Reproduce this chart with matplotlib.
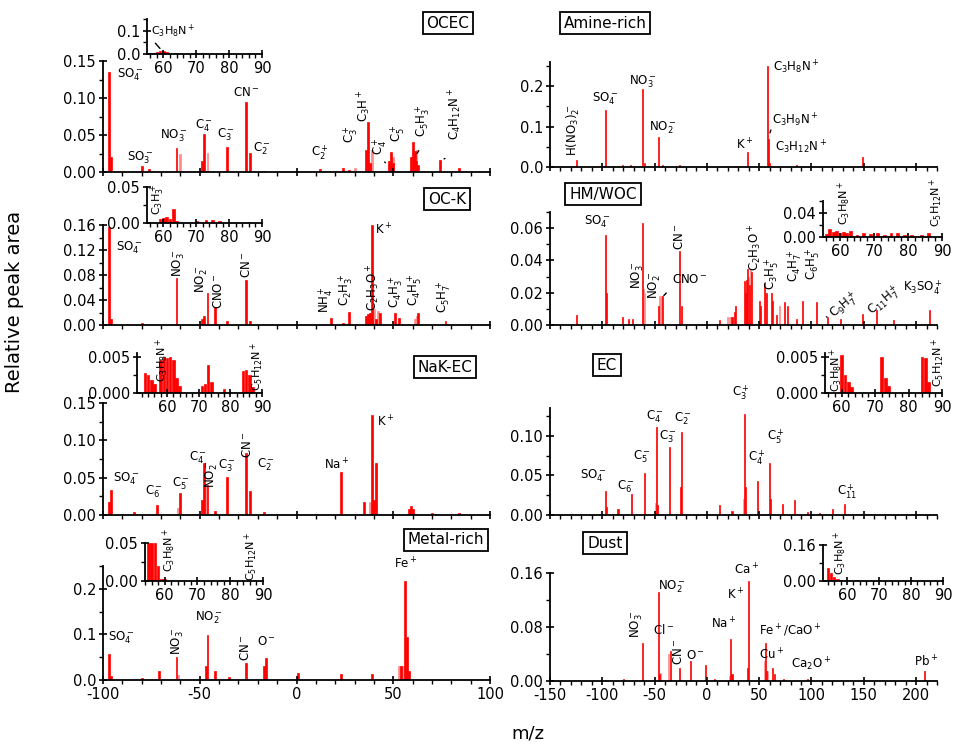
import matplotlib
matplotlib.use("Agg")
import matplotlib.pyplot as plt
from matplotlib.ticker import MultipleLocator, AutoMinorLocator, FormatStrFormatter, FixedLocator

plt.rcParams["font.family"] = ["DejaVu Sans"]
plt.rcParams["mathtext.default"] = "regular"

W, H = 969, 753
RED = "#ff0000"
PINK = "#ff8a8a"

# ---- spectra (m/z, relative peak area) ----
ocec_mz = [-97, -96, -80, -76, -62, -49, -48, -36, -26, -24, -17, 12, 24, 27, 36, 37, 38,
           48, 49, 50, 59, 60, 61, 62, 63, 74, 84]
ocec_val = [0.135, 0.02, 0.008, 0.004, 0.033, 0.015, 0.052, 0.034, 0.094, 0.026, 0.002, 0.004,
            0.005, 0.003, 0.03, 0.068, 0.012, 0.015, 0.027, 0.012, 0.02, 0.040, 0.028, 0.015,
            0.01, 0.016, 0.006]
ocec_lmz = [-60, -46, 30, 39, 50, 62]
ocec_lval = [0.025, 0.026, 0.006, 0.03, 0.02, 0.03]
ocec_in_mz = [57, 58, 59, 60, 61, 64, 72, 86]
ocec_in_val = [0.006, 0.01, 0.015, 0.012, 0.008, 0.003, 0.003, 0.003]

amine_mz = [-125, -97, -89, -81, -73, -62, -60, -46, -42, -26, 18, 27, 39, 58, 59, 60, 86, 149]
amine_val = [0.018, 0.141, 0.003, 0.005, 0.004, 0.192, 0.01, 0.075, 0.004, 0.006, 0.003, 0.003,
             0.038, 0.25, 0.07, 0.01, 0.006, 0.025]

ock_mz = [-97, -96, -80, -62, -49, -48, -46, -42, -36, -26, -24, 18, 24, 27, 36, 37, 38, 39,
          41, 43, 51, 53, 63, 77]
ock_val = [0.157, 0.01, 0.003, 0.075, 0.01, 0.015, 0.051, 0.029, 0.007, 0.072, 0.006, 0.012,
           0.004, 0.021, 0.015, 0.018, 0.02, 0.16, 0.01, 0.02, 0.02, 0.012, 0.02, 0.006]
ock_lmz = [40, 42, 61, 62]
ock_lval = [0.025, 0.022, 0.01, 0.015]
ock_in_mz = [59, 60, 61, 62, 63, 64, 70, 73, 75, 77, 86]
ock_in_val = [0.005, 0.007, 0.008, 0.005, 0.02, 0.003, 0.003, 0.004, 0.004, 0.003, 0.002]

hm_mz = [-125, -97, -96, -81, -75, -71, -62, -46, -42, -26, -24, 12, 24, 26, 27, 36, 37, 38,
         39, 41, 43, 50, 51, 55, 57, 62, 63, 67, 74, 77, 86, 91, 105, 115, 128, 149, 162, 178, 213]
hm_val = [0.006, 0.056, 0.02, 0.005, 0.004, 0.004, 0.063, 0.012, 0.018, 0.046, 0.012, 0.003,
          0.005, 0.008, 0.012, 0.027, 0.02, 0.028, 0.035, 0.025, 0.033, 0.015, 0.012, 0.026,
          0.02, 0.02, 0.015, 0.006, 0.014, 0.012, 0.004, 0.015, 0.014, 0.005, 0.004, 0.007,
          0.009, 0.003, 0.009]
hm_lmz = [-61, -60, -45, -44, -43, 20, 22, 40, 42, 56, 69]
hm_lval = [0.022, 0.02, 0.018, 0.017, 0.018, 0.005, 0.005, 0.03, 0.034, 0.02, 0.012]
hm_in_mz = [56, 57, 58, 59, 60, 61, 62, 63, 65, 67, 69, 71, 73, 75, 77, 79, 81, 84, 86]
hm_in_val = [0.005, 0.013, 0.008, 0.01, 0.006, 0.008, 0.007, 0.01, 0.004, 0.006, 0.005, 0.006,
             0.004, 0.007, 0.006, 0.004, 0.004, 0.004, 0.006]

nak_mz = [-97, -96, -84, -72, -60, -49, -48, -46, -42, -36, -26, -24, -17, 23, 35, 39, 40, 41,
          58, 59, 60, 70, 84]
nak_val = [0.018, 0.034, 0.004, 0.013, 0.029, 0.02, 0.069, 0.04, 0.005, 0.051, 0.083, 0.032,
           0.004, 0.058, 0.018, 0.134, 0.02, 0.07, 0.008, 0.012, 0.008, 0.003, 0.003]
nak_lmz = [-61, -47, 38]
nak_lval = [0.01, 0.04, 0.018]
nak_in_mz = [53, 54, 55, 56, 58, 59, 60, 61, 62, 63, 64, 71, 72, 73, 74, 78, 84, 85, 86, 87]
nak_in_val = [0.0028, 0.0025, 0.0018, 0.0012, 0.0045, 0.005, 0.0048, 0.005, 0.0045, 0.002,
              0.001, 0.001, 0.0012, 0.0038, 0.0015, 0.0005, 0.003, 0.0032, 0.0025, 0.0008]

ec_mz = [-97, -96, -85, -72, -60, -48, -47, -36, -25, -24, 12, 24, 36, 37, 48, 60, 61, 72, 84,
         96, 108, 120, 132]
ec_val = [0.03, 0.01, 0.008, 0.026, 0.053, 0.111, 0.012, 0.086, 0.035, 0.105, 0.012, 0.005,
          0.128, 0.035, 0.043, 0.066, 0.02, 0.014, 0.019, 0.004, 0.003, 0.008, 0.014]
ec_lmz = [-49, 35]
ec_lval = [0.015, 0.02]
ec_in_mz = [60, 61, 62, 63, 72, 73, 74, 84, 85, 86]
ec_in_val = [0.0052, 0.0025, 0.0015, 0.0008, 0.005, 0.002, 0.001, 0.005, 0.0048, 0.0015]

metal_mz = [-97, -96, -80, -71, -62, -47, -46, -42, -35, -26, -17, -16, 1, 23, 39, 54, 56, 57, 58]
metal_val = [0.057, 0.008, 0.004, 0.02, 0.05, 0.03, 0.098, 0.019, 0.006, 0.037, 0.03, 0.048,
             0.015, 0.013, 0.013, 0.03, 0.218, 0.095, 0.02]
metal_lmz = [-61, 53, 55]
metal_lval = [0.01, 0.03, 0.03]
metal_in_mz = [55, 56, 57, 58, 59, 60, 70]
metal_in_val = [0.05, 0.05, 0.05, 0.02, 0.003, 0.002, 0.001]

dust_mz = [-97, -80, -62, -46, -45, -35, -26, -16, -1, 7, 23, 24, 39, 40, 56, 57, 63, 65, 73, 96, 208]
dust_val = [0.002, 0.003, 0.057, 0.132, 0.01, 0.045, 0.02, 0.03, 0.024, 0.003, 0.062, 0.01,
            0.02, 0.148, 0.057, 0.015, 0.02, 0.01, 0.003, 0.003, 0.015]
dust_lmz = [-44, -37, 22, 55, 58]
dust_lval = [0.012, 0.04, 0.008, 0.03, 0.015]
dust_in_mz = [54, 55, 56, 57, 58, 63]
dust_in_val = [0.06, 0.035, 0.02, 0.01, 0.005, 0.006]

left_xticks = [-100, -50, 0, 50, 100]
right_xticks = [-150, -100, -50, 0, 50, 100, 150, 200]
inset_xticks = [60, 70, 80, 90]


def px_rect(x0, x1, ytop, ybot):
    return [x0 / W, 1 - ybot / H, (x1 - x0) / W, (ybot - ytop) / H]


def style(ax, xticks, xminor, yticks, yfmt, labels, fs=10.5):
    for s in ("top", "right"):
        ax.spines[s].set_visible(False)
    for s in ("left", "bottom"):
        ax.spines[s].set_linewidth(1.3)
    ax.xaxis.set_major_locator(FixedLocator(xticks))
    ax.xaxis.set_minor_locator(MultipleLocator(xminor))
    ax.yaxis.set_major_locator(FixedLocator(yticks))
    ax.yaxis.set_minor_locator(AutoMinorLocator(2))
    ax.yaxis.set_major_formatter(FormatStrFormatter(yfmt))
    ax.tick_params(which="major", direction="inout", length=6, width=1.2, labelsize=fs, pad=2)
    ax.tick_params(which="minor", direction="out", length=3, width=1.0)
    ax.tick_params(axis="x", labelbottom=labels)
    ax.patch.set_alpha(0)


def bars(ax, mz, val, lmz=None, lval=None, width=1.0):
    if lmz:
        ax.bar(lmz, lval, width=width, color=PINK, lw=0.5, edgecolor=PINK)
    ax.bar(mz, val, width=width, color=RED, lw=0.5, edgecolor=RED)


def put_labels(ax, items, fs=8.5):
    for it in items:
        txt, x, y, rot = it[:4]
        ha = it[4] if len(it) > 4 else "center"
        ax.text(x, y, txt, rotation=rot, ha=ha, va="center", fontsize=fs, clip_on=False)


def leader(ax, p0, p1):
    ax.annotate("", xy=p1, xytext=p0, arrowprops=dict(arrowstyle="-", lw=1.0, color="k"))


def box_title(fig, x, y, txt):
    fig.text(x / W, 1 - y / H, txt, ha="center", va="center", fontsize=11,
             bbox=dict(boxstyle="square,pad=0.25", fc="white", ec="black", lw=1.3))


fig = plt.figure(figsize=(W / 100, H / 100), dpi=100)

# ---------------- row 1 ----------------
ax = fig.add_axes(px_rect(103, 490, 61, 172))
bars(ax, ocec_mz, ocec_val, ocec_lmz, ocec_lval)
ax.set_xlim(-100, 100); ax.set_ylim(0, 0.15)
style(ax, left_xticks, 10, [0, 0.05, 0.10, 0.15], "%.2f", False)
put_labels(ax, [(r"SO$_4^-$", -86, 0.131, 0),
                (r"SO$_3^-$", -80.5, 0.019, 0),
                (r"NO$_3^-$", -63.5, 0.049, 0),
                (r"C$_4^-$", -48, 0.062, 0),
                (r"C$_3^-$", -36.5, 0.051, 0),
                (r"CN$^-$", -26, 0.107, 0),
                (r"C$_2^-$", -18, 0.031, 0),
                (r"C$_2^+$", 12, 0.026, 0),
                (r"C$_3^+$", 28, 0.051, 90),
                (r"C$_3$H$^+$", 35, 0.089, 90),
                (r"C$_4^+$", 43, 0.035, 90),
                (r"C$_5^+$", 52, 0.053, 90),
                (r"C$_5$H$_3^+$", 65, 0.069, 90),
                (r"C$_4$H$_{12}$N$^+$", 82, 0.078, 90)])
leader(ax, (44.5, 0.016), (47, 0.010))
leader(ax, (64, 0.032), (61.5, 0.022))
leader(ax, (78, 0.02), (75, 0.016))
box_title(fig, 448, 23, "OCEC")

ins = fig.add_axes(px_rect(147, 262, 19, 54))
bars(ins, ocec_in_mz, ocec_in_val, width=0.8)
ins.set_xlim(55, 90); ins.set_ylim(0, 0.15)
style(ins, inset_xticks, 2, [0.0, 0.1], "%.1f", True)
put_labels(ins, [(r"C$_3$H$_8$N$^+$", 56.3, 0.095, 0, "left")], fs=8)
leader(ins, (57, 0.055), (59.5, 0.015))

ax = fig.add_axes(px_rect(550, 937, 62, 167))
bars(ax, amine_mz, amine_val)
ax.set_xlim(-150, 220); ax.set_ylim(0, 0.26)
style(ax, right_xticks, 10, [0, 0.1, 0.2], "%.1f", False)
put_labels(ax, [(r"H(NO$_3$)$_2^-$", -127.5, 0.092, 90),
                (r"SO$_4^-$", -97.5, 0.17, 0),
                (r"NO$_3^-$", -61, 0.21, 0),
                (r"NO$_2^-$", -42, 0.096, 0),
                (r"K$^+$", 36, 0.055, 0),
                (r"C$_3$H$_8$N$^+$", 63, 0.248, 0, "left"),
                (r"C$_3$H$_9$N$^+$", 62, 0.116, 0, "left"),
                (r"C$_3$H$_{12}$N$^+$", 65, 0.05, 0, "left")])
leader(ax, (62, 0.098), (59.5, 0.078))
box_title(fig, 605, 23, "Amine-rich")

# ---------------- row 2 ----------------
ax = fig.add_axes(px_rect(103, 490, 225, 325))
bars(ax, ock_mz, ock_val, ock_lmz, ock_lval)
ax.set_xlim(-100, 100); ax.set_ylim(0, 0.16)
style(ax, left_xticks, 10, [0, 0.04, 0.08, 0.12, 0.16], "%.2f", False)
put_labels(ax, [(r"SO$_4^-$", -86.5, 0.123, 0),
                (r"NO$_3^-$", -61, 0.099, 90),
                (r"NO$_2^-$", -49, 0.074, 90),
                (r"CNO$^-$", -40.5, 0.054, 90),
                (r"CN$^-$", -26, 0.096, 90),
                (r"NH$_4^+$", 15, 0.04, 90),
                (r"C$_2$H$_3^+$", 25.5, 0.056, 90),
                (r"K$^+$", 40.5, 0.152, 0, "left"),
                (r"C$_2$H$_3$O$^+$", 39.5, 0.061, 90),
                (r"C$_4$H$_3^+$", 51, 0.053, 90),
                (r"C$_4$H$_5^+$", 61, 0.056, 90),
                (r"C$_5$H$_7^+$", 76, 0.045, 90)])
box_title(fig, 447, 199, "OC-K")

ins = fig.add_axes(px_rect(147, 262, 187, 223))
bars(ins, ock_in_mz, ock_in_val, width=0.8)
ins.set_xlim(55, 90); ins.set_ylim(0, 0.05)
style(ins, inset_xticks, 2, [0.00, 0.05], "%.2f", True)
put_labels(ins, [(r"C$_3$H$_3^+$", 58.3, 0.032, 90)], fs=8)

ax = fig.add_axes(px_rect(550, 937, 212, 325))
bars(ax, hm_mz, hm_val, hm_lmz, hm_lval)
ax.set_xlim(-150, 220); ax.set_ylim(0, 0.07)
style(ax, right_xticks, 10, [0, 0.02, 0.04, 0.06], "%.2f", False)
put_labels(ax, [(r"SO$_4^-$", -105, 0.064, 0),
                (r"NO$_3^-$", -66, 0.031, 90),
                (r"NO$_2^-$", -50, 0.025, 90),
                (r"CNO$^-$", -16, 0.028, 0),
                (r"CN$^-$", -26, 0.055, 90),
                (r"C$_2$H$_3$O$^+$", 46, 0.048, 90),
                (r"C$_3$H$_5^+$", 62, 0.032, 90),
                (r"C$_4$H$_7^+$", 84, 0.037, 90),
                (r"C$_6$H$_5^+$", 101, 0.038, 90),
                (r"C$_9$H$_7^+$", 131, 0.012, 40),
                (r"C$_{11}$H$_7^+$", 170, 0.015, 40),
                (r"K$_3$SO$_4^+$", 207, 0.023, 0)])
leader(ax, (-37, 0.021), (-43, 0.017))
leader(ax, (117, 0.004), (112, 0.006))
box_title(fig, 603, 194, "HM/WOC")

ins = fig.add_axes(px_rect(823, 942, 201, 237))
bars(ins, hm_in_mz, hm_in_val, width=0.8)
ins.set_xlim(55, 90); ins.set_ylim(0, 0.06)
style(ins, inset_xticks, 2, [0.00, 0.04], "%.2f", True)
put_labels(ins, [(r"C$_3$H$_8$N$^+$", 61.4, 0.057, 90),
                 (r"C$_5$H$_{12}$N$^+$", 88.5, 0.057, 90)], fs=8)

# ---------------- row 3 ----------------
ax = fig.add_axes(px_rect(103, 490, 403, 515))
bars(ax, nak_mz, nak_val, nak_lmz, nak_lval)
ax.set_xlim(-100, 100); ax.set_ylim(0, 0.15)
style(ax, left_xticks, 10, [0, 0.05, 0.10, 0.15], "%.2f", False)
put_labels(ax, [(r"SO$_4^-$", -88, 0.049, 0),
                (r"C$_6^-$", -73.5, 0.031, 0),
                (r"C$_5^-$", -59.5, 0.042, 0),
                (r"C$_4^-$", -51, 0.077, 0),
                (r"NO$_2^-$", -44, 0.055, 90),
                (r"C$_3^-$", -36, 0.066, 0),
                (r"CN$^-$", -25.5, 0.094, 90),
                (r"C$_2^-$", -16, 0.067, 0),
                (r"Na$^+$", 21, 0.067, 0),
                (r"K$^+$", 46, 0.125, 0)])
box_title(fig, 445, 367, "NaK-EC")

ins = fig.add_axes(px_rect(137, 262, 353, 393))
bars(ins, nak_in_mz, nak_in_val, width=0.8)
ins.set_xlim(50.5, 90); ins.set_ylim(0, 0.0055)
style(ins, inset_xticks, 2, [0.000, 0.005], "%.3f", True)
put_labels(ins, [(r"C$_3$H$_8$N$^+$", 58.7, 0.0046, 90),
                 (r"C$_5$H$_{12}$N$^+$", 88.7, 0.0036, 90)], fs=8)

ax = fig.add_axes(px_rect(550, 937, 408, 515))
bars(ax, ec_mz, ec_val, ec_lmz, ec_lval)
ax.set_xlim(-150, 220); ax.set_ylim(0, 0.135)
style(ax, right_xticks, 10, [0, 0.05, 0.10], "%.2f", False)
put_labels(ax, [(r"SO$_4^-$", -108.5, 0.049, 0),
                (r"C$_6^-$", -77, 0.036, 0),
                (r"C$_5^-$", -62.5, 0.074, 0),
                (r"C$_4^-$", -49.5, 0.124, 0),
                (r"C$_3^-$", -37, 0.099, 0),
                (r"C$_2^-$", -22.5, 0.122, 0),
                (r"C$_3^+$", 33, 0.155, 0),
                (r"C$_4^+$", 47.5, 0.072, 0),
                (r"C$_5^+$", 66.5, 0.099, 0),
                (r"C$_{11}^+$", 133.5, 0.03, 0)])
box_title(fig, 607, 365, "EC")

ins = fig.add_axes(px_rect(825, 942, 353, 393))
bars(ins, ec_in_mz, ec_in_val, width=0.8)
ins.set_xlim(55, 90); ins.set_ylim(0, 0.0055)
style(ins, inset_xticks, 2, [0.000, 0.005], "%.3f", True)
put_labels(ins, [(r"C$_3$H$_8$N$^+$", 58.5, 0.0032, 90),
                 (r"C$_5$H$_{12}$N$^+$", 88.8, 0.0042, 90)], fs=8)

# ---------------- row 4 ----------------
ax = fig.add_axes(px_rect(103, 490, 566, 680))
bars(ax, metal_mz, metal_val, metal_lmz, metal_lval)
ax.set_xlim(-100, 100); ax.set_ylim(0, 0.25)
style(ax, left_xticks, 10, [0, 0.1, 0.2], "%.1f", True)
ax.set_xticklabels([str(t) for t in left_xticks])
put_labels(ax, [(r"SO$_4^-$", -90.5, 0.092, 0),
                (r"NO$_3^-$", -61.5, 0.085, 90),
                (r"NO$_2^-$", -45.5, 0.136, 0),
                (r"CN$^-$", -26.5, 0.07, 90),
                (r"O$^-$", -15.5, 0.085, 0),
                (r"Fe$^+$", 56.5, 0.254, 0)])
box_title(fig, 446, 540, "Metal-rich")

ins = fig.add_axes(px_rect(145, 263, 543, 581))
bars(ins, metal_in_mz, metal_in_val, width=0.8)
ins.set_xlim(54, 90); ins.set_ylim(0, 0.05)
style(ins, inset_xticks, 2, [0.00, 0.05], "%.2f", True)
put_labels(ins, [(r"C$_3$H$_8$N$^+$", 61.5, 0.041, 90),
                 (r"C$_5$H$_{12}$N$^+$", 86.6, 0.032, 90)], fs=8)

ax = fig.add_axes(px_rect(550, 937, 573, 681))
bars(ax, dust_mz, dust_val, dust_lmz, dust_lval)
ax.set_xlim(-150, 220); ax.set_ylim(0, 0.16)
style(ax, right_xticks, 10, [0, 0.08, 0.16], "%.2f", True)
ax.set_xticklabels([str(t) for t in right_xticks])
put_labels(ax, [(r"NO$_3^-$", -67, 0.085, 90),
                (r"NO$_2^-$", -33, 0.14, 0),
                (r"Cl$^-$", -41, 0.075, 0),
                (r"CN$^-$", -27, 0.043, 90),
                (r"O$^-$", -10.5, 0.038, 0),
                (r"Na$^+$", 16.5, 0.085, 0),
                (r"K$^+$", 28, 0.128, 0),
                (r"Ca$^+$", 37.5, 0.165, 0),
                (r"Fe$^+$/CaO$^+$", 79.5, 0.075, 0),
                (r"Cu$^+$", 62, 0.038, 0),
                (r"Ca$_2$O$^+$", 100, 0.025, 0),
                (r"Pb$^+$", 210, 0.028, 0)])
box_title(fig, 605, 543, "Dust")

ins = fig.add_axes(px_rect(823, 943, 545, 581))
bars(ins, dust_in_mz, dust_in_val, width=0.8)
ins.set_xlim(52.5, 90); ins.set_ylim(0, 0.16)
style(ins, inset_xticks, 2, [0.00, 0.16], "%.2f", True)
put_labels(ins, [(r"C$_3$H$_8$N$^+$", 57.8, 0.124, 90)], fs=8)

fig.text(15 / W, 1 - 302 / H, "Relative peak area", rotation=90, ha="center", va="center", fontsize=14)
fig.text(528 / W, 1 - 733 / H, "m/z", ha="center", va="center", fontsize=13)

fig.savefig("out.png", dpi=100)
